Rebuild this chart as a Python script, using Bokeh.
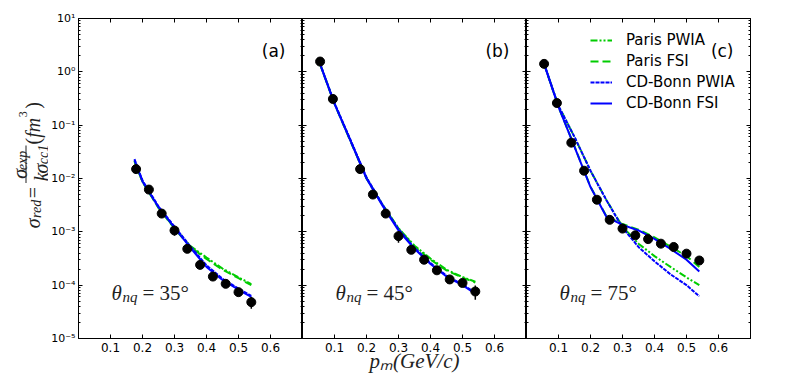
import numpy as np
from math import pi
from bokeh.plotting import figure
from bokeh.layouts import row
from bokeh.models import (LinearAxis, LogAxis, FixedTicker, CustomJSTickFormatter,
                          Label, Legend, LegendItem, Range1d, BoxAnnotation)
from bokeh.embed import file_html
from bokeh.resources import INLINE

# ---------------- data ----------------
panel_tags = ["(a)", "(b)", "(c)"]
panel_angles = ["35°", "45°", "75°"]
series_names = ["Paris PWIA", "Paris FSI", "CD-Bonn PWIA", "CD-Bonn FSI"]
x_ticks = [0.1, 0.2, 0.3, 0.4, 0.5, 0.6]
x_title = "pₘ(GeV/c)"

# panel (a) theta_nq = 35 deg
a_exp_x = [0.18, 0.22, 0.26, 0.30, 0.34, 0.38, 0.42, 0.46, 0.50, 0.54]
a_exp_y = [1.5e-2, 6.2e-3, 2.2e-3, 1.06e-3, 4.8e-4, 2.4e-4, 1.45e-4, 1.06e-4, 7.4e-5, 4.8e-5]
a_exp_err = [0.06, 0.06, 0.07, 0.2, 0.08, 0.08, 0.08, 0.08, 0.1, 0.25]
a_th_x = [0.175, 0.20, 0.25, 0.30, 0.35, 0.40, 0.45, 0.50, 0.54]
a_paris_pwia = [2.15e-2, 8.7e-3, 2.85e-3, 1.18e-3, 5.4e-4, 3.3e-4, 2.05e-4, 1.4e-4, 1.05e-4]
a_paris_fsi = [2.1e-2, 8.6e-3, 2.8e-3, 1.15e-3, 5.2e-4, 3.1e-4, 1.95e-4, 1.35e-4, 1.0e-4]
a_bonn_pwia = [2.3e-2, 9.2e-3, 3.0e-3, 1.25e-3, 5.3e-4, 2.35e-4, 1.32e-4, 8.6e-5, 6.3e-5]
a_bonn_fsi = [2.2e-2, 8.8e-3, 2.9e-3, 1.2e-3, 5.0e-4, 2.2e-4, 1.25e-4, 8.2e-5, 6.0e-5]

# panel (b) theta_nq = 45 deg
b_exp_x = [0.055, 0.095, 0.18, 0.22, 0.26, 0.30, 0.34, 0.38, 0.42, 0.46, 0.50, 0.54]
b_exp_y = [1.56, 0.31, 1.5e-2, 5.0e-3, 2.2e-3, 8.3e-4, 4.6e-4, 3.0e-4, 1.9e-4, 1.28e-4, 1.1e-4, 7.6e-5]
b_exp_err = [0.05, 0.05, 0.06, 0.06, 0.07, 0.25, 0.08, 0.08, 0.08, 0.08, 0.1, 0.3]
b_th_x = [0.055, 0.10, 0.15, 0.20, 0.25, 0.30, 0.35, 0.40, 0.45, 0.50, 0.54]
b_paris_pwia = [1.4, 0.255, 5.1e-2, 1.02e-2, 3.25e-3, 1.17e-3, 5.5e-4, 3.15e-4, 1.95e-4, 1.42e-4, 1.16e-4]
b_paris_fsi = [1.38, 0.25, 5.0e-2, 1.0e-2, 3.2e-3, 1.15e-3, 5.3e-4, 3.0e-4, 1.9e-4, 1.38e-4, 1.12e-4]
b_bonn_pwia = [1.42, 0.26, 5.3e-2, 1.05e-2, 3.25e-3, 1.12e-3, 5.0e-4, 2.6e-4, 1.5e-4, 1.03e-4, 7.2e-5]
b_bonn_fsi = [1.4, 0.25, 5.1e-2, 1.0e-2, 3.1e-3, 1.06e-3, 4.8e-4, 2.5e-4, 1.45e-4, 1.0e-4, 6.9e-5]

# panel (c) theta_nq = 75 deg
c_exp_x = [0.055, 0.095, 0.14, 0.18, 0.22, 0.26, 0.30, 0.34, 0.38, 0.42, 0.46, 0.50, 0.54]
c_exp_y = [1.41, 0.26, 4.7e-2, 1.4e-2, 4.0e-3, 1.68e-3, 1.15e-3, 8.6e-4, 7.3e-4, 6.0e-4, 5.2e-4, 3.9e-4, 2.9e-4]
c_exp_err = [0.05, 0.05, 0.06, 0.06, 0.06, 0.07, 0.08, 0.08, 0.08, 0.08, 0.08, 0.1, 0.12]
c_th_x = [0.055, 0.10, 0.15, 0.20, 0.25, 0.30, 0.35, 0.40, 0.45, 0.50, 0.54]
c_paris_pwia = [1.41, 0.23, 6.0e-2, 1.4e-2, 3.9e-3, 1.25e-3, 6.0e-4, 3.5e-4, 2.2e-4, 1.4e-4, 1.0e-4]
c_paris_fsi = [1.41, 0.22, 4.0e-2, 7.0e-3, 1.95e-3, 1.4e-3, 1.1e-3, 7.9e-4, 5.3e-4, 3.5e-4, 2.2e-4]
c_bonn_pwia = [1.41, 0.23, 6.0e-2, 1.4e-2, 3.9e-3, 1.2e-3, 5.2e-4, 2.8e-4, 1.6e-4, 1.0e-4, 6.2e-5]
c_bonn_fsi = [1.41, 0.22, 3.9e-2, 6.9e-3, 1.9e-3, 1.35e-3, 1.06e-3, 7.4e-4, 4.8e-4, 3.0e-4, 1.8e-4]

panels = [
    (a_exp_x, a_exp_y, a_exp_err, a_th_x, [a_paris_pwia, a_paris_fsi, a_bonn_pwia, a_bonn_fsi]),
    (b_exp_x, b_exp_y, b_exp_err, b_th_x, [b_paris_pwia, b_paris_fsi, b_bonn_pwia, b_bonn_fsi]),
    (c_exp_x, c_exp_y, c_exp_err, c_th_x, [c_paris_pwia, c_paris_fsi, c_bonn_pwia, c_bonn_fsi]),
]

# ---------------- styles ----------------
GREEN = "#00cc00"
BLUE = "#0000ff"
styles = [
    dict(line_color=GREEN, line_dash="7 2 2 2 2 2", line_width=2),
    dict(line_color=GREEN, line_dash="8 4", line_width=2),
    dict(line_color=BLUE, line_dash="4 1", line_width=2),
    dict(line_color=BLUE, line_dash="solid", line_width=2),
]
SANS = "DejaVu Sans"
SERIF = "Liberation Serif"
INK = "#222222"

XMAX = 0.7
FRAME_W = 224
FRAME_TOP = 18
FRAME_H = 320
LABEL_W = 48
LEFT_BORDER = 30
lefts = [78, 302, 526]


def dx(px, left):
    return (px - left) * XMAX / FRAME_W


def dy(py):
    return 10 ** (1 - 6 * (py - FRAME_TOP) / FRAME_H)


y_major = [10.0 ** k for k in range(-5, 2)]
y_minor = [m * 10.0 ** k for k in range(-5, 1) for m in range(2, 10)]

sup_fmt = CustomJSTickFormatter(code="""
const e = Math.round(Math.log10(tick));
const m = {'-':'\u207b','0':'\u2070','1':'\u00b9','2':'\u00b2','3':'\u00b3','4':'\u2074','5':'\u2075','6':'\u2076','7':'\u2077','8':'\u2078','9':'\u2079'};
return '10' + String(e).split('').map(c => m[c]).join('');
""")
empty_fmt = CustomJSTickFormatter(code="return '';")


def style_axis(ax, show_labels, log):
    ax.axis_line_color = "black"
    ax.major_tick_in = 4
    ax.major_tick_out = 0
    ax.major_tick_line_color = "black"
    if log:
        ax.minor_tick_in = 2
        ax.minor_tick_out = 0
        ax.minor_tick_line_color = "black"
    else:
        ax.minor_tick_line_color = None
    ax.major_label_text_font = SANS
    ax.major_label_text_color = "black"
    if show_labels:
        ax.major_label_text_font_size = "12px"
        ax.major_label_standoff = 3
    else:
        ax.major_label_text_font_size = "0px"
        ax.major_label_standoff = 0
        ax.formatter = empty_fmt


figs = []
line_renderers = []
for i, (ex, ey, ee, tx, curves) in enumerate(panels):
    left_border = LEFT_BORDER if i == 0 else 0
    right_border = 20 if i == 2 else 0
    p = figure(frame_width=FRAME_W, frame_height=FRAME_H,
               y_axis_type="log", x_range=Range1d(0, XMAX), y_range=Range1d(1e-5, 10),
               output_backend="svg", toolbar_location=None,
               min_border_left=left_border, min_border_right=right_border,
               min_border_top=FRAME_TOP, min_border_bottom=0)
    p.grid.visible = False
    p.outline_line_color = "black"
    p.outline_line_width = 1
    p.background_fill_color = "white"
    p.border_fill_color = "white"

    xa = p.xaxis[0]
    xa.ticker = FixedTicker(ticks=x_ticks)
    style_axis(xa, True, False)
    xa.major_label_standoff = 4
    xa.axis_label = x_title if i == 1 else " "
    xa.axis_label_text_font = SERIF
    xa.axis_label_text_font_style = "italic"
    xa.axis_label_text_font_size = "21px"
    xa.axis_label_text_color = INK
    xa.axis_label_standoff = -6

    ya = p.yaxis[0]
    ya.ticker = FixedTicker(ticks=y_major, minor_ticks=y_minor)
    if i == 0:
        ya.formatter = sup_fmt
        ya.major_label_text_font_size = "11px"
    style_axis(ya, i == 0, True)
    if i == 0:
        ya.major_label_text_font_size = "11px"

    ra = LogAxis(ticker=FixedTicker(ticks=y_major, minor_ticks=y_minor))
    style_axis(ra, False, True)
    p.add_layout(ra, "right")
    ta = LinearAxis(ticker=FixedTicker(ticks=x_ticks))
    style_axis(ta, False, False)
    p.add_layout(ta, "above")

    rs = []
    for ys, st in zip(curves, styles):
        rs.append(p.line(tx, ys, **st))
    line_renderers.append(rs)

    exa = np.array(ex)
    eya = np.array(ey)
    eea = np.array(ee)
    p.segment(x0=exa, y0=eya * (1 - eea), x1=exa, y1=eya * (1 + eea),
              line_color="black", line_width=1.5)
    p.scatter(ex, ey, size=9, fill_color="black", line_color="black")

    left = lefts[i]
    # panel tag
    p.add_layout(Label(x=dx(left + FRAME_W - 17, left), y=dy(50), text=panel_tags[i],
                       text_align="right", text_baseline="alphabetic",
                       text_font=SANS, text_font_size="17px", text_color="black"))
    # theta_nq label
    tx0 = left + 33
    p.add_layout(Label(x=dx(tx0, left), y=dy(292), text="θ",
                       text_font=SERIF, text_font_style="italic", text_font_size="21px",
                       text_baseline="alphabetic", text_color=INK))
    p.add_layout(Label(x=dx(tx0 + 11, left), y=dy(296), text="nq",
                       text_font=SERIF, text_font_style="italic", text_font_size="15px",
                       text_baseline="alphabetic", text_color=INK))
    p.add_layout(Label(x=dx(tx0 + 31, left), y=dy(292), text="= " + panel_angles[i],
                       text_font=SERIF, text_font_size="21px",
                       text_baseline="alphabetic", text_color=INK))
    figs.append(p)

# legend in panel (c)
legend = Legend(items=[LegendItem(label=n, renderers=[r]) for n, r in zip(series_names, line_renderers[2])],
                location=(64, 226), orientation="vertical",
                background_fill_alpha=0, border_line_color=None,
                label_text_font=SANS, label_text_font_size="15px", label_text_color="black",
                glyph_width=22, glyph_height=18, label_height=18, spacing=3,
                label_standoff=14, padding=10, margin=0)
figs[2].add_layout(legend)

# y axis title: a narrow strip whose ranges are in pixels, with the title composed of pieces
yl = figure(width=LABEL_W, height=372, x_range=Range1d(0, LABEL_W), y_range=Range1d(372, 0),
            output_backend="svg", toolbar_location=None, min_border=0,
            x_axis_location=None, y_axis_location=None)
yl.grid.visible = False
yl.outline_line_color = None
yl.background_fill_color = "white"
yl.border_fill_color = "white"
ylabel_parts = [
    ("σ", 32, 246, "20px", "italic"),
    ("red", 36, 234, "14px", "italic"),
    ("=", 32, 211, "20px", "normal"),
    ("σ", 19, 188, "20px", "italic"),
    ("exp", 22, 178, "14px", "italic"),
    ("k", 40, 191, "20px", "italic"),
    ("σ", 40, 182, "20px", "italic"),
    ("cc1", 43, 171, "14px", "italic"),
    ("(", 32, 148, "20px", "normal"),
    ("fm", 32, 140, "20px", "italic"),
    ("3", 22, 116, "12px", "normal"),
    (")", 32, 106, "20px", "normal"),
]
for txt, bx, sy, fs, style in ylabel_parts:
    yl.add_layout(Label(x=bx, y=sy, text=txt, angle=pi / 2,
                        text_align="left", text_baseline="alphabetic",
                        text_font=SERIF, text_font_style=style, text_font_size=fs,
                        text_color=INK))
yl.add_layout(BoxAnnotation(left=25, right=26, top=149, bottom=193,
                            fill_color=INK, fill_alpha=1, line_color=None))

layout = row(yl, *figs, spacing=0)
open("out.html", "w").write(file_html(layout, INLINE))
